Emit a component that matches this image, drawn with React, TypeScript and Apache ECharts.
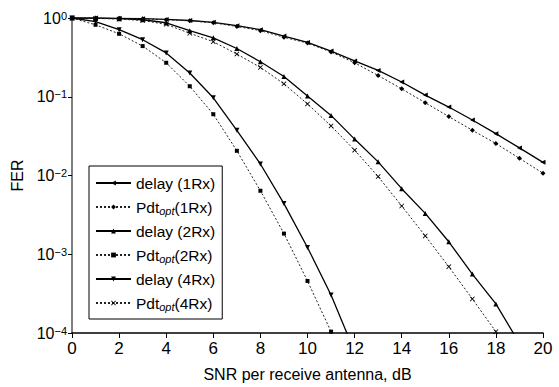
import React, { useEffect, useRef } from "react";
import * as echarts from "echarts";

// ---- Data ----
const xTicks = [0, 2, 4, 6, 8, 10, 12, 14, 16, 18, 20];
const yTickExponents = [0, -1, -2, -3, -4];

const snr1Rx = [0, 1, 2, 3, 4, 5, 6, 7, 8, 9, 10, 11, 12, 13, 14, 15, 16, 17, 18, 19, 20];
const delay1Rx = [1.0, 1.0, 0.99, 0.98, 0.96, 0.93, 0.88, 0.8, 0.71, 0.59, 0.49, 0.38, 0.285, 0.216, 0.154, 0.105, 0.074, 0.0506, 0.034, 0.0224, 0.0147];
const pdt1Rx = [1.0, 1.0, 0.99, 0.98, 0.95, 0.92, 0.87, 0.78, 0.69, 0.57, 0.48, 0.37, 0.27, 0.186, 0.126, 0.084, 0.056, 0.0375, 0.0255, 0.0165, 0.0107];

const snrDelay2Rx = [0, 1, 2, 3, 4, 5, 6, 7, 8, 9, 10, 11, 12, 13, 14, 15, 16, 17, 18, 19];
const delay2Rx = [1.0, 0.995, 0.98, 0.95, 0.87, 0.69, 0.56, 0.41, 0.278, 0.181, 0.102, 0.058, 0.029, 0.0149, 0.0068, 0.0033, 0.00144, 0.00056, 0.000234, 0.000074];

const snrPdt2Rx = [0, 1, 2, 3, 4, 5, 6, 7, 8, 9, 10, 11];
const pdt2Rx = [1.0, 0.82, 0.63, 0.44, 0.27, 0.136, 0.06, 0.0206, 0.0064, 0.00183, 0.000458, 0.000104];

const snrDelay4Rx = [0, 1, 2, 3, 4, 5, 6, 7, 8, 9, 10, 11, 12];
const delay4Rx = [1.0, 0.9, 0.71, 0.53, 0.36, 0.2, 0.097, 0.0375, 0.014, 0.0044, 0.00122, 0.000304, 0.000058];

const snrPdt4Rx = [0, 1, 2, 3, 4, 5, 6, 7, 8, 9, 10, 11, 12, 13, 14, 15, 16, 17, 18];
const pdt4Rx = [1.0, 0.99, 0.97, 0.93, 0.83, 0.64, 0.5, 0.348, 0.236, 0.146, 0.081, 0.0426, 0.021, 0.0097, 0.0041, 0.00171, 0.000695, 0.000271, 0.000104];

const seriesNames = [
  "delay (1Rx)",
  "Pdt{sub|opt}(1Rx)",
  "delay (2Rx)",
  "Pdt{sub|opt}(2Rx)",
  "delay (4Rx)",
  "Pdt{sub|opt}(4Rx)",
];

const FONT = "Liberation Sans, Arial, Helvetica, sans-serif";
const X_MARK = "path://M0,1.2 L1.2,0 L5,3.8 L8.8,0 L10,1.2 L6.2,5 L10,8.8 L8.8,10 L5,6.2 L1.2,10 L0,8.8 L3.8,5 Z";

function pairs(xs: number[], ys: number[]) {
  return xs.map((x, i) => [x, ys[i]]);
}

export default function App() {
  const ref = useRef<HTMLDivElement>(null);
  useEffect(() => {
    if (!ref.current) return;
    const chart = echarts.init(ref.current, null, { renderer: "svg" });
    const solid = { color: "#000", width: 1.3, type: "solid" as const };
    const dotted = { color: "#222", width: 1, type: [2, 2] as any };
    const mk = (name: string, data: number[][], line: any, symbol: string, size: number, rotate = 0) => ({
      name,
      type: "line",
      data,
      clip: true,
      symbol,
      symbolSize: size,
      symbolRotate: rotate,
      showAllSymbol: true,
      lineStyle: line,
      itemStyle: { color: "#000" },
      emphasis: { disabled: true },
    });
    chart.setOption({
      animation: false,
      textStyle: { fontFamily: FONT },
      grid: { left: 72, right: 16, top: 18, bottom: 52, containLabel: false },
      legend: {
        orient: "vertical",
        left: 89,
        top: 166,
        padding: [8, 7, 7, 6],
        itemWidth: 35,
        itemHeight: 6,
        itemGap: 6,
        backgroundColor: "#fff",
        borderColor: "#000",
        borderWidth: 1,
        borderRadius: 0,
        textStyle: {
          fontFamily: FONT,
          fontSize: 15.5,
          color: "#000",
          lineHeight: 18,
          rich: {
            sub: { fontFamily: FONT, fontSize: 11, fontStyle: "italic", color: "#000", lineHeight: 11, verticalAlign: "bottom", padding: [7, 0, 0, 0] },
          },
        },
        data: seriesNames,
      },
      xAxis: {
        type: "value",
        min: 0,
        max: 20,
        interval: 2,
        name: "SNR per receive antenna, dB",
        nameLocation: "middle",
        nameGap: 33,
        nameTextStyle: { fontFamily: FONT, fontSize: 16, color: "#000" },
        axisLine: { lineStyle: { color: "#000", width: 1.5 } },
        axisTick: { show: true, length: 5, lineStyle: { color: "#000" } },
        axisLabel: {
          fontFamily: FONT,
          fontSize: 17,
          color: "#000",
          margin: 7,
          customValues: xTicks,
        },
        splitLine: { show: false },
      },
      yAxis: {
        type: "log",
        logBase: 10,
        min: 0.0001,
        max: 1,
        name: "FER",
        nameLocation: "middle",
        nameGap: 46,
        nameTextStyle: { fontFamily: FONT, fontSize: 16, color: "#000" },
        axisLine: { show: true, lineStyle: { color: "#555", width: 1.5 } },
        axisTick: { show: true, length: 4, lineStyle: { color: "#000" } },
        splitLine: { show: false },
        minorTick: { show: false },
        axisLabel: {
          fontFamily: FONT,
          fontSize: 16,
          color: "#000",
          margin: 5,
          formatter: (v: number) => {
            const e = Math.round(Math.log10(v));
            if (!yTickExponents.includes(e)) return "";
            return "10{sup|" + (e < 0 ? "\u2212" + -e : String(e)) + "}";
          },
          rich: {
            sup: { fontFamily: FONT, fontSize: 11, color: "#000", verticalAlign: "top", lineHeight: 11, padding: [0, 0, 8, 0] },
          },
        },
      },
      series: [
        mk(seriesNames[0], pairs(snr1Rx, delay1Rx), solid, "triangle", 5, 90),
        mk(seriesNames[1], pairs(snr1Rx, pdt1Rx), dotted, "diamond", 5),
        mk(seriesNames[2], pairs(snrDelay2Rx, delay2Rx), solid, "triangle", 5),
        mk(seriesNames[3], pairs(snrPdt2Rx, pdt2Rx), dotted, "rect", 4),
        mk(seriesNames[4], pairs(snrDelay4Rx, delay4Rx), solid, "triangle", 5, 180),
        mk(seriesNames[5], pairs(snrPdt4Rx, pdt4Rx), dotted, X_MARK, 5),
      ],
    });
    return () => chart.dispose();
  }, []);
  return <div ref={ref} style={{ width: 559, height: 387, position: "absolute", left: 0, top: 0, background: "#fff" }} />;
}
